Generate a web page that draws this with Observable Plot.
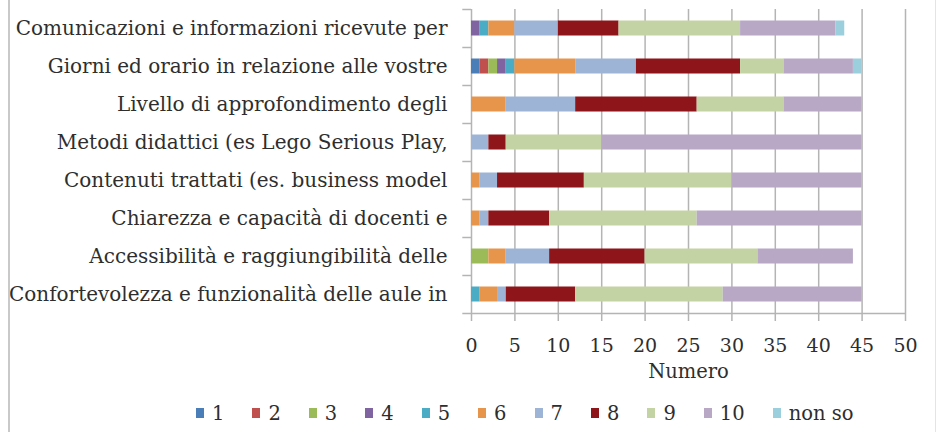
<!DOCTYPE html>
<html>
<head>
<meta charset="utf-8">
<script src="https://cdn.jsdelivr.net/npm/d3@7"></script>
<script src="https://cdn.jsdelivr.net/npm/@observablehq/plot@0.6"></script>
<style>
  html, body { margin: 0; padding: 0; background: #fff; }
  #wrap { position: relative; width: 937px; height: 432px; overflow: hidden; font-family: "DejaVu Serif", serif; color: #2e2e2e; }
  #lborder { position: absolute; left: 8px; top: 0; width: 2px; height: 432px; background: #c9c9c9; }
  #rborder { position: absolute; left: 935px; top: 0; width: 1px; height: 432px; background: #e4e4e4; }
  #legend { position: absolute; left: 196px; top: 392px; height: 42px; display: flex; align-items: center; font-size: 19.5px; }
  .item { display: flex; align-items: center; margin-right: 28px; }
  .sw { display: inline-block; width: 8px; height: 10px; margin-right: 8px; }
</style>
</head>
<body>
<div id="wrap">
  <div id="chart"></div>
  <div id="legend"></div>
  <div id="lborder"></div>
  <div id="rborder"></div>
</div>
<script>
const categories = [
  "Comunicazioni e informazioni ricevute per",
  "Giorni ed orario in relazione alle vostre",
  "Livello di approfondimento degli",
  "Metodi didattici (es Lego Serious Play,",
  "Contenuti trattati (es. business model",
  "Chiarezza e capacità di docenti e",
  "Accessibilità e raggiungibilità delle",
  "Confortevolezza e funzionalità delle aule in"
];
const levels = ["1", "2", "3", "4", "5", "6", "7", "8", "9", "10", "non so"];
const colors = ["#4a7eb8", "#c0504d", "#9bbb59", "#8064a2", "#4bacc6", "#e8954c", "#9db4d6", "#8e161b", "#c3d3a4", "#b8a8c6", "#9ccfdd"];

const s1   = [0, 1, 0, 0, 0, 0, 0, 0];
const s2   = [0, 1, 0, 0, 0, 0, 0, 0];
const s3   = [0, 1, 0, 0, 0, 0, 2, 0];
const s4   = [1, 1, 0, 0, 0, 0, 0, 0];
const s5   = [1, 1, 0, 0, 0, 0, 0, 1];
const s6   = [3, 7, 4, 0, 1, 1, 2, 2];
const s7   = [5, 7, 8, 2, 2, 1, 5, 1];
const s8   = [7, 12, 14, 2, 10, 7, 11, 8];
const s9   = [14, 5, 10, 11, 17, 17, 13, 17];
const s10  = [11, 8, 9, 30, 15, 19, 11, 16];
const sNon = [1, 1, 0, 0, 0, 0, 0, 0];
const series = [s1, s2, s3, s4, s5, s6, s7, s8, s9, s10, sNon];

const xTicks = [0, 5, 10, 15, 20, 25, 30, 35, 40, 45, 50];
const xLabel = "Numero";

const rows = [];
series.forEach((vals, i) => {
  vals.forEach((v, j) => {
    rows.push({category: categories[j], level: levels[i], value: v});
  });
});

const gridColor = "#b4b4b4";

const chart = Plot.plot({
  width: 937,
  height: 390,
  marginTop: 9,
  marginBottom: 77,
  marginLeft: 471,
  marginRight: 32,
  style: {fontFamily: "'DejaVu Serif', serif", fontSize: "19px", color: "#2e2e2e", background: "transparent", overflow: "visible"},
  x: {domain: [0, 50]},
  y: {domain: categories, padding: 0},
  color: {domain: levels, range: colors},
  marks: [
    Plot.gridX(xTicks, {stroke: gridColor, strokeOpacity: 1, strokeWidth: 1.5}),
    Plot.barX(rows, Plot.stackX({x: "value", y: "category", fill: "level", order: levels, insetTop: 11.5, insetBottom: 11.5})),
    Plot.ruleY(categories, {y: d => d, x1: -1, x2: 0, dy: -19, stroke: gridColor, strokeWidth: 1.5}),
    Plot.ruleY([categories[categories.length - 1]], {y: d => d, x1: -1, x2: 50, dy: 19, stroke: gridColor, strokeWidth: 1.5}),
    Plot.axisX(xTicks, {tickSize: 8, tickPadding: 17, label: null, stroke: gridColor, strokeWidth: 1.5, fill: "#2e2e2e"}),
    Plot.axisY({tickSize: 0, tickPadding: 24, label: null, fill: "#2e2e2e", fontSize: 20}),
    Plot.text([xLabel], {frameAnchor: "bottom", dy: 64, fontSize: 19.5, fill: "#2e2e2e"})
  ]
});
document.getElementById("chart").appendChild(chart);

const legend = document.getElementById("legend");
levels.forEach((lv, i) => {
  const item = document.createElement("div");
  item.className = "item";
  const sw = document.createElement("span");
  sw.className = "sw";
  sw.style.background = colors[i];
  const lab = document.createElement("span");
  lab.textContent = lv;
  item.appendChild(sw);
  item.appendChild(lab);
  legend.appendChild(item);
});
</script>
</body>
</html>
